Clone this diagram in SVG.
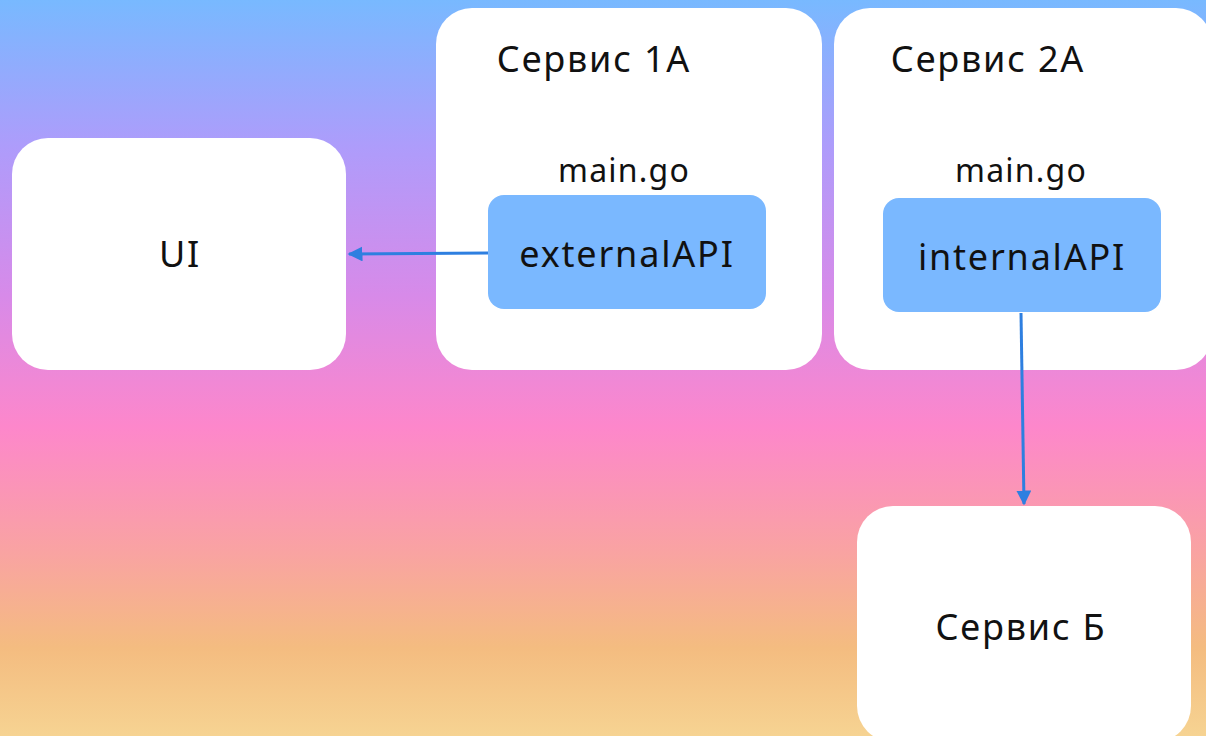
<svg xmlns="http://www.w3.org/2000/svg" width="1206" height="736" viewBox="0 0 1206 736">
<defs>
<linearGradient id="bg" x1="0" y1="0" x2="0" y2="1">
<stop offset="0" stop-color="#78b9ff"/>
<stop offset="0.2" stop-color="#ae9cfb"/>
<stop offset="0.4" stop-color="#d78ae9"/>
<stop offset="0.58" stop-color="#fd87cb"/>
<stop offset="0.75" stop-color="#f9a3a2"/>
<stop offset="0.88" stop-color="#f4bc80"/>
<stop offset="1" stop-color="#f6d392"/>
</linearGradient>
<marker id="ah" viewBox="0 0 10 10" refX="9" refY="5" markerWidth="5" markerHeight="5" markerUnits="strokeWidth" orient="auto">
<path d="M0,0 L10,5 L0,10 z" fill="#2e7fe0"/>
</marker>
<style>
.box{fill:#ffffff}
.api{fill:#7ab8ff}
.t{font-family:"Noto Sans","Open Sans",sans-serif;fill:#111;}
.big{font-size:36px;letter-spacing:1.8px}
.mid{font-size:32px;letter-spacing:1.2px}
.conn{stroke:#2e7fe0;stroke-width:3;fill:none}
</style>
</defs>
<rect x="0" y="0" width="1206" height="736" fill="url(#bg)"/>
<g id="ui">
<rect class="box" x="12" y="138" width="334" height="232" rx="36"/>
<text class="t big" x="180" y="267" text-anchor="middle">UI</text>
</g>
<g id="service1a">
<rect class="box" x="436" y="8" width="386" height="362" rx="36"/>
<text class="t big" x="594" y="72" text-anchor="middle">Сервис 1A</text>
<text class="t mid" x="624" y="182" text-anchor="middle">main.go</text>
</g>
<g id="externalapi">
<rect class="api" x="488" y="195" width="278" height="114" rx="16"/>
<text class="t big" x="627" y="267" text-anchor="middle">externalAPI</text>
</g>
<g id="service2a">
<rect class="box" x="834" y="8" width="378" height="362" rx="36"/>
<text class="t big" x="988" y="72" text-anchor="middle">Сервис 2A</text>
<text class="t mid" x="1021" y="182" text-anchor="middle">main.go</text>
</g>
<g id="internalapi">
<rect class="api" x="883" y="198" width="278" height="114" rx="16"/>
<text class="t big" x="1022" y="270" text-anchor="middle">internalAPI</text>
</g>
<g id="serviceb">
<rect class="box" x="857" y="506" width="334" height="236" rx="36"/>
<text class="t big" x="1021" y="640" text-anchor="middle">Сервис Б</text>
</g>
<g id="connectors">
<line class="conn" x1="488" y1="253" x2="349" y2="254" marker-end="url(#ah)"/>
<line class="conn" x1="1021" y1="313" x2="1024" y2="504" marker-end="url(#ah)"/>
</g>
</svg>
